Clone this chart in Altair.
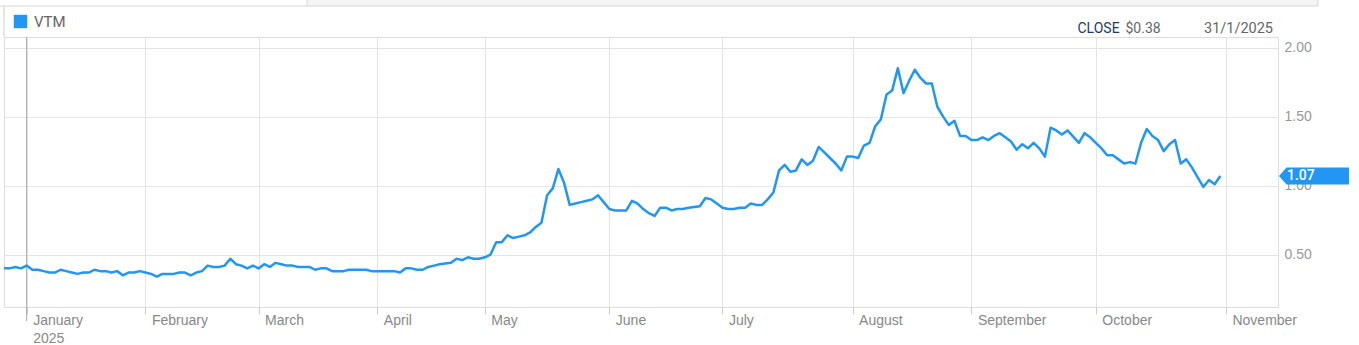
import altair as alt
import pandas as pd

SYMBOL = "VTM"
BLUE = "#2196F3"
START = "2024-12-24"
END = "2025-11-28"
HOLIDAYS = ["2024-12-25", "2024-12-26", "2025-01-01", "2025-01-27",
            "2025-04-18", "2025-04-21", "2025-04-25", "2025-06-09"]
HOVER_DATE = "2025-01-31"
Y_TICKS = [0.5, 1.0, 1.5, 2.0]

CLOSE = [
    0.40, 0.40, 0.41, 0.40, 0.42, 0.39, 0.39, 0.38, 0.37, 0.37,
    0.39, 0.38, 0.37, 0.36, 0.37, 0.37, 0.39, 0.38, 0.38, 0.37,
    0.38, 0.35, 0.37, 0.37, 0.38, 0.37, 0.36, 0.34, 0.36, 0.36,
    0.36, 0.37, 0.37, 0.35, 0.37, 0.38, 0.42, 0.41, 0.41, 0.42,
    0.47, 0.43, 0.42, 0.40, 0.42, 0.40, 0.43, 0.41, 0.44, 0.43,
    0.42, 0.42, 0.41, 0.41, 0.41, 0.39, 0.40, 0.40, 0.38, 0.38,
    0.38, 0.39, 0.39, 0.39, 0.39, 0.38, 0.38, 0.38, 0.38, 0.38,
    0.37, 0.40, 0.40, 0.39, 0.39, 0.41, 0.42, 0.43, 0.435, 0.44,
    0.47, 0.46, 0.48, 0.47, 0.47, 0.48, 0.50, 0.59, 0.59, 0.64,
    0.62, 0.63, 0.64, 0.66, 0.70, 0.73, 0.93, 0.98, 1.12, 1.02,
    0.86, 0.87, 0.88, 0.89, 0.90, 0.93, 0.88, 0.83, 0.82, 0.82,
    0.82, 0.89, 0.87, 0.83, 0.80, 0.78, 0.84, 0.84, 0.82, 0.83,
    0.83, 0.84, 0.845, 0.85, 0.91, 0.90, 0.87, 0.84, 0.83, 0.83,
    0.84, 0.84, 0.87, 0.86, 0.86, 0.90, 0.95, 1.11, 1.15, 1.10,
    1.11, 1.19, 1.15, 1.18, 1.28, 1.24, 1.20, 1.16, 1.11, 1.21,
    1.21, 1.20, 1.29, 1.31, 1.43, 1.48, 1.66, 1.69, 1.85, 1.67,
    1.76, 1.84, 1.78, 1.74, 1.74, 1.57, 1.50, 1.44, 1.47, 1.36,
    1.36, 1.33, 1.33, 1.35, 1.33, 1.36, 1.38, 1.35, 1.32, 1.26,
    1.30, 1.27, 1.31, 1.27, 1.21, 1.42, 1.40, 1.37, 1.40, 1.355,
    1.31, 1.38, 1.35, 1.31, 1.27, 1.22, 1.22, 1.19, 1.16, 1.17,
    1.16, 1.31, 1.41, 1.36, 1.33, 1.25, 1.30, 1.33, 1.16, 1.19,
    1.13, 1.06, 0.99, 1.04, 1.01, 1.07,
]

# trading calendar (weekdays minus exchange holidays)
days = pd.bdate_range(START, END)
days = days[~days.isin(pd.to_datetime(HOLIDAYS))]

df = pd.DataFrame({
    "day": list(range(len(CLOSE))),
    "date": [d.strftime("%Y-%m-%d") for d in days[:len(CLOSE)]],
    "close": CLOSE,
    "symbol": SYMBOL,
})

X_MAX = 225.2
month_idx = []
month_lab = []
for i in range(1, len(days)):
    if days[i].month != days[i - 1].month and i <= X_MAX:
        month_idx.append(i)
        name = days[i].strftime("%B")
        if days[i].month == 1:
            month_lab.append(f"['{name}', '{days[i].year}']")
        else:
            month_lab.append(f"'{name}'")
label_expr = " : ".join(f"datum.value == {i} ? {l}" for i, l in zip(month_idx, month_lab)) + " : ''"
year_start = [i for i in month_idx if days[i].month == 1]

x_scale = alt.Scale(domain=[0, X_MAX], nice=False, zero=False)
y_scale = alt.Scale(domain=[0.12, 2.077], nice=False, zero=False)

x_axis = alt.Axis(values=month_idx, labelExpr=label_expr, labelAlign="left",
                  labelOffset=6, labelBaseline="top", labelPadding=-1,
                  labelLineHeight=18, tickSize=7, tickColor="#cccccc",
                  domain=False, grid=True, gridColor="#e4e4e4",
                  labelColor="#888888", labelFontSize=14, title=None,
                  labelOverlap=False, labelFlush=False)
y_axis = alt.Axis(orient="right", values=Y_TICKS, format=".2f", ticks=False,
                  domain=False, labelPadding=6, labelColor="#999999",
                  labelFontSize=14, gridColor="#e4e4e4", title=None)

one = pd.DataFrame({"k": [0]})

# page chrome
chrome_fill = alt.Chart(one).mark_rect(fill="#f4f4f4").encode(
    x=alt.value(303), x2=alt.value(1314), y=alt.value(-37), y2=alt.value(-31))
chrome_top = alt.Chart(one).mark_rule(color="#d6d6d6").encode(
    x=alt.value(-4), x2=alt.value(1314), y=alt.value(-31))
chrome_v1 = alt.Chart(one).mark_rule(color="#d6d6d6").encode(
    x=alt.value(303), y=alt.value(-37), y2=alt.value(-31))
chrome_v2 = alt.Chart(one).mark_rule(color="#d6d6d6").encode(
    x=alt.value(1314), y=alt.value(-37), y2=alt.value(-31))
chrome_left = alt.Chart(one).mark_rule(color="#cccccc").encode(
    x=alt.value(0), y=alt.value(-31), y2=alt.value(0))

year_rule = alt.Chart(pd.DataFrame({"day": year_start})).mark_rule(
    color="#aaaaaa", strokeWidth=1).encode(
    x=alt.X("day:Q", scale=x_scale), y=alt.value(0), y2=alt.value(284))

line = alt.Chart(df).mark_line(strokeWidth=2.5, strokeJoin="round").encode(
    x=alt.X("day:Q", scale=x_scale, axis=x_axis),
    y=alt.Y("close:Q", scale=y_scale, axis=y_axis),
    color=alt.Color("symbol:N", scale=alt.Scale(range=[BLUE]),
                    legend=alt.Legend(orient="none", legendX=9, legendY=-23,
                                      title=None, symbolType="square",
                                      symbolSize=180, symbolFillColor=BLUE,
                                      symbolStrokeWidth=0, labelFontSize=15,
                                      labelColor="#666666", labelFont="Roboto",
                                      labelOffset=6)),
)

last = df.tail(1)
BADGE = "M -1 0 L -0.786 -0.243 L 1 -0.243 L 1 0.243 L -0.786 0.243 Z"
badge = alt.Chart(last).mark_point(shape=BADGE, size=4900, filled=True,
                                   fill=BLUE, opacity=1, strokeWidth=0).encode(
    x=alt.value(1310), y=alt.Y("close:Q", scale=y_scale))
badge_txt = alt.Chart(last).mark_text(align="left", baseline="middle",
                                      color="white", fontSize=14,
                                      fontWeight=500, font="Roboto").encode(
    x=alt.value(1283), y=alt.Y("close:Q", scale=y_scale),
    text=alt.Text("close:Q", format=".2f"))

hover = df[df["date"] == HOVER_DATE].copy()
d = pd.Timestamp(HOVER_DATE)
hover["date_lab"] = f"{d.day}/{d.month}/{d.year}"
hover["close_lab"] = "$" + hover["close"].map(lambda v: f"{v:.2f}")
hover["word"] = "CLOSE"

h_word = alt.Chart(hover).mark_text(align="left", baseline="alphabetic",
                                    fontSize=14, font="Roboto",
                                    fontWeight="normal",
                                    color="#1d3b63").encode(
    x=alt.value(1073.5), y=alt.value(-4), text="word:N")
h_val = alt.Chart(hover).mark_text(align="left", baseline="alphabetic",
                                   fontSize=14, font="Roboto",
                                   color="#666666").encode(
    x=alt.value(1121.5), y=alt.value(-4), text="close_lab:N")
h_date = alt.Chart(hover).mark_text(align="right", baseline="alphabetic",
                                    fontSize=14.5, font="Roboto",
                                    color="#666666").encode(
    x=alt.value(1269), y=alt.value(-4), text="date_lab:N")

chart = alt.layer(
    chrome_fill, chrome_top, chrome_v1, chrome_v2, chrome_left,
    year_rule, line, badge, badge_txt, h_word, h_val, h_date,
).properties(
    width=1274, height=270,
    autosize=alt.AutoSizeParams(type="none"),
    padding={"left": 4, "top": 37, "right": 81, "bottom": 38},
).configure_view(
    stroke="#cccccc", strokeWidth=1
).configure_axis(
    labelFont="Roboto"
).configure(background="white")

chart.save("out.html", embed_options={"renderer": "svg", "actions": False})
